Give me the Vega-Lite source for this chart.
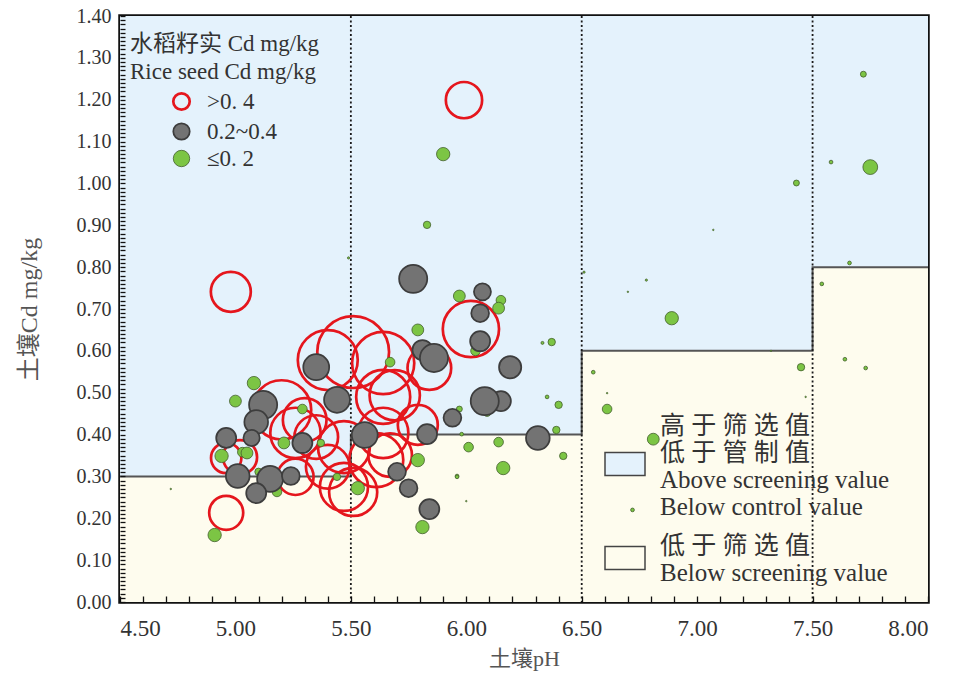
{
  "$schema": "https://vega.github.io/schema/vega-lite/v6.json",
  "width": 808,
  "height": 586,
  "autosize": "none",
  "padding": {"left": 120, "top": 16, "right": 32, "bottom": 73},
  "background": "#ffffff",
  "config": {
    "view": {"stroke": "#111111", "strokeWidth": 3.5},
    "axis": {
      "grid": false,
      "domain": false,
      "tickColor": "#111111",
      "tickWidth": 1.3,
      "labelFont": "Liberation Serif",
      "labelColor": "#333333",
      "labelOverlap": false,
      "titleFont": "Liberation Serif, Noto Sans CJK SC",
      "titleFontWeight": "normal",
      "titleColor": "#555555"
    }
  },
  "datasets": {
    "zones": [
      {"zone": "above", "p0": 4.5, "p1": 5.5, "c0": 0.3, "c1": 1.4},
      {"zone": "above", "p0": 5.5, "p1": 6.5, "c0": 0.4, "c1": 1.4},
      {"zone": "above", "p0": 6.5, "p1": 7.5, "c0": 0.6, "c1": 1.4},
      {"zone": "above", "p0": 7.5, "p1": 8.0, "c0": 0.8, "c1": 1.4},
      {"zone": "below", "p0": 4.5, "p1": 5.5, "c0": 0.0, "c1": 0.3},
      {"zone": "below", "p0": 5.5, "p1": 6.5, "c0": 0.0, "c1": 0.4},
      {"zone": "below", "p0": 6.5, "p1": 7.5, "c0": 0.0, "c1": 0.6},
      {"zone": "below", "p0": 7.5, "p1": 8.0, "c0": 0.0, "c1": 0.8}
    ],
    "screening": [
      {"pH": 4.5, "limit": 0.3},
      {"pH": 5.5, "limit": 0.4},
      {"pH": 6.5, "limit": 0.6},
      {"pH": 7.5, "limit": 0.8},
      {"pH": 8.0, "limit": 0.8}
    ],
    "phBreaks": [{"pH": 5.5}, {"pH": 6.5}, {"pH": 7.5}],
    "samples": [
      {"pH": 4.98, "cd": 0.741, "rice": 0.54, "cls": ">0. 4"},
      {"pH": 5.99, "cd": 1.199, "rice": 0.49, "cls": ">0. 4"},
      {"pH": 4.96, "cd": 0.213, "rice": 0.46, "cls": ">0. 4"},
      {"pH": 6.02, "cd": 0.652, "rice": 0.76, "cls": ">0. 4"},
      {"pH": 4.96, "cd": 0.344, "rice": 0.41, "cls": ">0. 4"},
      {"pH": 5.02, "cd": 0.346, "rice": 0.46, "cls": ">0. 4"},
      {"pH": 5.20, "cd": 0.459, "rice": 0.80, "cls": ">0. 4"},
      {"pH": 5.26, "cd": 0.404, "rice": 0.68, "cls": ">0. 4"},
      {"pH": 5.30, "cd": 0.435, "rice": 0.59, "cls": ">0. 4"},
      {"pH": 5.35, "cd": 0.394, "rice": 0.59, "cls": ">0. 4"},
      {"pH": 5.26, "cd": 0.299, "rice": 0.49, "cls": ">0. 4"},
      {"pH": 5.40, "cd": 0.323, "rice": 0.59, "cls": ">0. 4"},
      {"pH": 5.40, "cd": 0.578, "rice": 0.81, "cls": ">0. 4"},
      {"pH": 5.51, "cd": 0.597, "rice": 0.97, "cls": ">0. 4"},
      {"pH": 5.64, "cd": 0.571, "rice": 0.84, "cls": ">0. 4"},
      {"pH": 5.84, "cd": 0.559, "rice": 0.59, "cls": ">0. 4"},
      {"pH": 5.64, "cd": 0.490, "rice": 0.73, "cls": ">0. 4"},
      {"pH": 5.47, "cd": 0.370, "rice": 0.70, "cls": ">0. 4"},
      {"pH": 5.61, "cd": 0.339, "rice": 0.73, "cls": ">0. 4"},
      {"pH": 5.79, "cd": 0.423, "rice": 0.54, "cls": ">0. 4"},
      {"pH": 5.47, "cd": 0.275, "rice": 0.65, "cls": ">0. 4"},
      {"pH": 5.64, "cd": 0.404, "rice": 0.68, "cls": ">0. 4"},
      {"pH": 5.67, "cd": 0.351, "rice": 0.59, "cls": ">0. 4"},
      {"pH": 5.51, "cd": 0.263, "rice": 0.65, "cls": ">0. 4"},
      {"pH": 5.69, "cd": 0.494, "rice": 0.68, "cls": ">0. 4"},
      {"pH": 5.08, "cd": 0.523, "rice": 0.18, "cls": "≤0. 2"},
      {"pH": 5.00, "cd": 0.480, "rice": 0.16, "cls": "≤0. 2"},
      {"pH": 5.29, "cd": 0.461, "rice": 0.13, "cls": "≤0. 2"},
      {"pH": 4.94, "cd": 0.349, "rice": 0.18, "cls": "≤0. 2"},
      {"pH": 5.03, "cd": 0.358, "rice": 0.13, "cls": "≤0. 2"},
      {"pH": 5.05, "cd": 0.356, "rice": 0.16, "cls": "≤0. 2"},
      {"pH": 5.21, "cd": 0.380, "rice": 0.16, "cls": "≤0. 2"},
      {"pH": 5.10, "cd": 0.311, "rice": 0.10, "cls": "≤0. 2"},
      {"pH": 5.18, "cd": 0.263, "rice": 0.13, "cls": "≤0. 2"},
      {"pH": 4.91, "cd": 0.160, "rice": 0.18, "cls": "≤0. 2"},
      {"pH": 5.37, "cd": 0.380, "rice": 0.10, "cls": "≤0. 2"},
      {"pH": 5.49, "cd": 0.822, "rice": 0.03, "cls": "≤0. 2"},
      {"pH": 4.72, "cd": 0.270, "rice": 0.02, "cls": "≤0. 2"},
      {"pH": 5.79, "cd": 0.650, "rice": 0.16, "cls": "≤0. 2"},
      {"pH": 5.67, "cd": 0.573, "rice": 0.13, "cls": "≤0. 2"},
      {"pH": 5.79, "cd": 0.339, "rice": 0.18, "cls": "≤0. 2"},
      {"pH": 5.53, "cd": 0.272, "rice": 0.18, "cls": "≤0. 2"},
      {"pH": 5.44, "cd": 0.299, "rice": 0.10, "cls": "≤0. 2"},
      {"pH": 5.81, "cd": 0.179, "rice": 0.18, "cls": "≤0. 2"},
      {"pH": 5.96, "cd": 0.301, "rice": 0.05, "cls": "≤0. 2"},
      {"pH": 5.97, "cd": 0.731, "rice": 0.16, "cls": "≤0. 2"},
      {"pH": 6.15, "cd": 0.721, "rice": 0.13, "cls": "≤0. 2"},
      {"pH": 6.14, "cd": 0.702, "rice": 0.16, "cls": "≤0. 2"},
      {"pH": 6.04, "cd": 0.600, "rice": 0.13, "cls": "≤0. 2"},
      {"pH": 6.37, "cd": 0.621, "rice": 0.10, "cls": "≤0. 2"},
      {"pH": 6.33, "cd": 0.619, "rice": 0.04, "cls": "≤0. 2"},
      {"pH": 6.35, "cd": 0.490, "rice": 0.05, "cls": "≤0. 2"},
      {"pH": 6.40, "cd": 0.471, "rice": 0.10, "cls": "≤0. 2"},
      {"pH": 5.97, "cd": 0.461, "rice": 0.08, "cls": "≤0. 2"},
      {"pH": 5.98, "cd": 0.401, "rice": 0.05, "cls": "≤0. 2"},
      {"pH": 6.01, "cd": 0.370, "rice": 0.13, "cls": "≤0. 2"},
      {"pH": 6.14, "cd": 0.382, "rice": 0.13, "cls": "≤0. 2"},
      {"pH": 6.16, "cd": 0.320, "rice": 0.18, "cls": "≤0. 2"},
      {"pH": 5.96, "cd": 0.299, "rice": 0.05, "cls": "≤0. 2"},
      {"pH": 6.00, "cd": 0.241, "rice": 0.02, "cls": "≤0. 2"},
      {"pH": 6.09, "cd": 0.454, "rice": 0.12, "cls": "≤0. 2"},
      {"pH": 6.39, "cd": 0.411, "rice": 0.10, "cls": "≤0. 2"},
      {"pH": 6.42, "cd": 0.349, "rice": 0.10, "cls": "≤0. 2"},
      {"pH": 6.51, "cd": 0.788, "rice": 0.03, "cls": "≤0. 2"},
      {"pH": 6.55, "cd": 0.549, "rice": 0.05, "cls": "≤0. 2"},
      {"pH": 5.90, "cd": 1.070, "rice": 0.18, "cls": "≤0. 2"},
      {"pH": 5.83, "cd": 0.901, "rice": 0.10, "cls": "≤0. 2"},
      {"pH": 7.66, "cd": 0.810, "rice": 0.05, "cls": "≤0. 2"},
      {"pH": 7.54, "cd": 0.760, "rice": 0.05, "cls": "≤0. 2"},
      {"pH": 6.78, "cd": 0.769, "rice": 0.03, "cls": "≤0. 2"},
      {"pH": 6.70, "cd": 0.741, "rice": 0.02, "cls": "≤0. 2"},
      {"pH": 6.89, "cd": 0.678, "rice": 0.18, "cls": "≤0. 2"},
      {"pH": 7.32, "cd": 0.600, "rice": 0.02, "cls": "≤0. 2"},
      {"pH": 6.61, "cd": 0.499, "rice": 0.02, "cls": "≤0. 2"},
      {"pH": 7.45, "cd": 0.561, "rice": 0.10, "cls": "≤0. 2"},
      {"pH": 7.47, "cd": 0.490, "rice": 0.02, "cls": "≤0. 2"},
      {"pH": 7.64, "cd": 0.580, "rice": 0.05, "cls": "≤0. 2"},
      {"pH": 7.73, "cd": 0.559, "rice": 0.05, "cls": "≤0. 2"},
      {"pH": 6.61, "cd": 0.461, "rice": 0.13, "cls": "≤0. 2"},
      {"pH": 6.81, "cd": 0.389, "rice": 0.16, "cls": "≤0. 2"},
      {"pH": 6.72, "cd": 0.220, "rice": 0.05, "cls": "≤0. 2"},
      {"pH": 7.72, "cd": 1.261, "rice": 0.08, "cls": "≤0. 2"},
      {"pH": 7.75, "cd": 1.039, "rice": 0.20, "cls": "≤0. 2"},
      {"pH": 7.58, "cd": 1.051, "rice": 0.05, "cls": "≤0. 2"},
      {"pH": 7.43, "cd": 1.001, "rice": 0.08, "cls": "≤0. 2"},
      {"pH": 7.07, "cd": 0.889, "rice": 0.02, "cls": "≤0. 2"},
      {"pH": 5.77, "cd": 0.772, "rice": 0.38, "cls": "0.2~0.4"},
      {"pH": 6.07, "cd": 0.741, "rice": 0.23, "cls": "0.2~0.4"},
      {"pH": 6.06, "cd": 0.690, "rice": 0.24, "cls": "0.2~0.4"},
      {"pH": 6.06, "cd": 0.623, "rice": 0.27, "cls": "0.2~0.4"},
      {"pH": 6.19, "cd": 0.561, "rice": 0.30, "cls": "0.2~0.4"},
      {"pH": 6.15, "cd": 0.480, "rice": 0.27, "cls": "0.2~0.4"},
      {"pH": 6.08, "cd": 0.480, "rice": 0.38, "cls": "0.2~0.4"},
      {"pH": 5.94, "cd": 0.440, "rice": 0.24, "cls": "0.2~0.4"},
      {"pH": 6.31, "cd": 0.392, "rice": 0.32, "cls": "0.2~0.4"},
      {"pH": 5.81, "cd": 0.602, "rice": 0.27, "cls": "0.2~0.4"},
      {"pH": 5.86, "cd": 0.583, "rice": 0.38, "cls": "0.2~0.4"},
      {"pH": 5.83, "cd": 0.401, "rice": 0.27, "cls": "0.2~0.4"},
      {"pH": 5.70, "cd": 0.311, "rice": 0.24, "cls": "0.2~0.4"},
      {"pH": 5.75, "cd": 0.272, "rice": 0.24, "cls": "0.2~0.4"},
      {"pH": 5.84, "cd": 0.222, "rice": 0.27, "cls": "0.2~0.4"},
      {"pH": 5.35, "cd": 0.561, "rice": 0.35, "cls": "0.2~0.4"},
      {"pH": 5.44, "cd": 0.483, "rice": 0.35, "cls": "0.2~0.4"},
      {"pH": 5.56, "cd": 0.399, "rice": 0.35, "cls": "0.2~0.4"},
      {"pH": 5.12, "cd": 0.471, "rice": 0.38, "cls": "0.2~0.4"},
      {"pH": 5.09, "cd": 0.430, "rice": 0.32, "cls": "0.2~0.4"},
      {"pH": 5.07, "cd": 0.392, "rice": 0.22, "cls": "0.2~0.4"},
      {"pH": 4.96, "cd": 0.392, "rice": 0.27, "cls": "0.2~0.4"},
      {"pH": 5.29, "cd": 0.380, "rice": 0.27, "cls": "0.2~0.4"},
      {"pH": 5.01, "cd": 0.301, "rice": 0.32, "cls": "0.2~0.4"},
      {"pH": 5.15, "cd": 0.294, "rice": 0.35, "cls": "0.2~0.4"},
      {"pH": 5.24, "cd": 0.301, "rice": 0.24, "cls": "0.2~0.4"},
      {"pH": 5.09, "cd": 0.260, "rice": 0.27, "cls": "0.2~0.4"}
    ]
  },
  "layer": [
    {
      "data": {"name": "zones"},
      "mark": {"type": "rect", "strokeWidth": 0},
      "encoding": {
        "x": {
          "field": "p0", "type": "quantitative", "title": "土壤pH",
          "scale": {"domain": [4.5, 8.0], "nice": false, "zero": false},
          "axis": {
            "zindex": 2,
            "tickCount": 35,
            "tickSize": -6,
            "labelPadding": 21,
            "labelFontSize": 23,
            "titleFontSize": 22,
            "titlePadding": 8,
            "labelExpr": "abs(datum.value * 2 - round(datum.value * 2)) < 0.000001 ? format(datum.value, '.2f') : ''"
          }
        },
        "x2": {"field": "p1"},
        "y": {
          "field": "c0", "type": "quantitative", "title": "土壤Cd mg/kg",
          "scale": {"domain": [0, 1.4], "nice": false, "zero": false},
          "axis": {
            "zindex": 2,
            "tickCount": 140,
            "tickSize": -5,
            "labelPadding": 14,
            "labelFontSize": 20,
            "titleFontSize": 24,
            "titlePadding": 35,
            "labelExpr": "abs(datum.value * 10 - round(datum.value * 10)) < 0.000001 ? format(datum.value, '.2f') : ''"
          }
        },
        "y2": {"field": "c1"},
        "color": {
          "field": "zone", "type": "nominal",
          "scale": {"domain": ["above", "below"], "range": ["#e4f2fc", "#fefcee"]},
          "legend": {
            "orient": "none",
            "legendX": 484,
            "legendY": 427,
            "padding": 0,
            "title": null,
            "symbolType": "M-1,-0.57L1,-0.57L1,0.57L-1,0.57Z",
            "symbolSize": 1600,
            "symbolStrokeColor": "#444444",
            "symbolStrokeWidth": 1.5,
            "symbolOpacity": 1,
            "labelFont": "Liberation Serif, Noto Sans CJK SC",
            "labelFontSize": 25,
            "labelColor": "#333333",
            "labelOffset": 14,
            "labelLimit": 400,
            "rowPadding": 14,
            "labelExpr": "datum.label == 'above' ? ['高 于 筛 选 值', '低 于 管 制 值', 'Above screening value', 'Below control value'] : ['低 于 筛 选 值', 'Below screening value']",
            "encoding": {
              "labels": {
                "dy": {"condition": {"test": "datum.value == 'above'", "value": -38}, "value": -12}
              }
            }
          }
        }
      }
    },
    {
      "data": {"name": "screening"},
      "mark": {"type": "line", "interpolate": "step-after", "color": "#555555", "strokeWidth": 2},
      "encoding": {
        "x": {"field": "pH", "type": "quantitative", "title": "土壤pH"},
        "y": {"field": "limit", "type": "quantitative", "title": "土壤Cd mg/kg"}
      }
    },
    {
      "data": {"name": "phBreaks"},
      "mark": {"type": "rule", "color": "#1a1a1a", "strokeWidth": 1.8, "strokeDash": [2, 2.5]},
      "encoding": {
        "x": {"field": "pH", "type": "quantitative", "title": "土壤pH"}
      }
    },
    {
      "data": {"name": "samples"},
      "mark": {"type": "point", "shape": "circle", "filled": true, "opacity": 1},
      "encoding": {
        "x": {"field": "pH", "type": "quantitative", "title": "土壤pH"},
        "y": {"field": "cd", "type": "quantitative", "title": "土壤Cd mg/kg"},
        "size": {
          "field": "rice", "type": "quantitative",
          "scale": {"type": "pow", "exponent": 2, "domain": [0, 1], "range": [0, 5476], "zero": true},
          "legend": null
        },
        "fill": {
          "field": "cls", "type": "nominal",
          "scale": {"domain": [">0. 4", "0.2~0.4", "≤0. 2"], "range": ["rgba(255,255,255,0)", "#737373", "#7cc544"]},
          "legend": {
            "orient": "none",
            "legendX": 10,
            "legendY": 17,
            "padding": 0,
            "title": ["水稻籽实  Cd mg/kg", "Rice seed  Cd mg/kg"],
            "titleFont": "Liberation Serif, Noto Sans CJK SC",
            "titleFontSize": 23,
            "titleFontWeight": "normal",
            "titleColor": "#333333",
            "titleLineHeight": 28,
            "titlePadding": 6,
            "titleLimit": 400,
            "labelFont": "Liberation Serif",
            "labelFontSize": 23,
            "labelColor": "#333333",
            "labelOffset": 14,
            "symbolSize": 270,
            "symbolOffset": 40,
            "symbolType": "circle",
            "rowPadding": 3
          }
        },
        "stroke": {
          "field": "cls", "type": "nominal",
          "scale": {"domain": [">0. 4", "0.2~0.4", "≤0. 2"], "range": ["#e5161d", "#3d3d3d", "#435e2c"]}
        },
        "strokeWidth": {
          "field": "cls", "type": "nominal",
          "scale": {"domain": [">0. 4", "0.2~0.4", "≤0. 2"], "range": [2.7, 0.8, 0.8]}
        }
      }
    }
  ]
}
